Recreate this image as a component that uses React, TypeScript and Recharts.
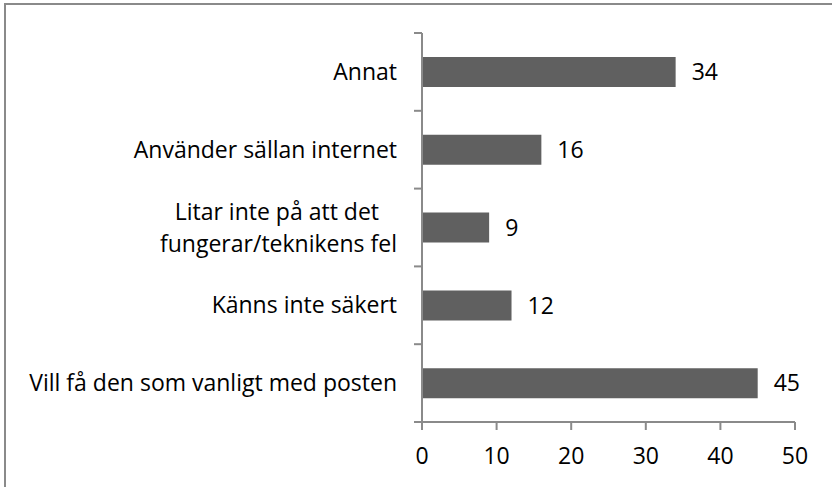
import { Bar, BarChart, LabelList, XAxis, YAxis } from 'recharts';

const categories = [
  'Annat',
  'Använder sällan internet',
  'Litar inte på att det fungerar/teknikens fel',
  'Känns inte säkert',
  'Vill få den som vanligt med posten'
];
const labelLines = [
  ['Annat'],
  ['Använder sällan internet'],
  ['Litar inte på att det', 'fungerar/teknikens fel'],
  ['Känns inte säkert'],
  ['Vill få den som vanligt med posten']
];
const values = [34, 16, 9, 12, 45];
const xTicks = [0, 10, 20, 30, 40, 50];

const data = categories.map((name, i) => ({ name, value: values[i], lines: labelLines[i] }));

const W = 832;
const H = 487;
const TOP = 33;
const AXIS_X = 422;
const AXIS_Y = 422;
const BAND = (AXIS_Y - TOP) / categories.length;
const GRAY = '#8a8a8a';
const FONT = '"Open Sans", sans-serif';

function CategoryTick(props: any) {
  const { y, index } = props;
  const lines: string[] = labelLines[index] || [];
  const right = AXIS_X - 25;
  return (
    <g>
      <line x1={AXIS_X - 8} x2={AXIS_X} y1={y - BAND / 2} y2={y - BAND / 2} stroke={GRAY} strokeWidth={2} />
      {index === categories.length - 1 && (
        <line x1={AXIS_X - 8} x2={AXIS_X} y1={y + BAND / 2} y2={y + BAND / 2} stroke={GRAY} strokeWidth={2} />
      )}
      {lines.length === 1 ? (
        <text x={right} y={y} dy="0.35em" textAnchor="end" fontSize={23} fontFamily={FONT} fill="#000">
          {lines[0]}
        </text>
      ) : (
        <>
          <text x={right - 18} y={y - 16} dy="0.35em" textAnchor="end" fontSize={23} fontFamily={FONT} fill="#000">
            {lines[0]}
          </text>
          <text x={right} y={y + 16} dy="0.35em" textAnchor="end" fontSize={23} fontFamily={FONT} fill="#000">
            {lines[1]}
          </text>
        </>
      )}
    </g>
  );
}

export default function App() {
  return (
    <div style={{ position: 'absolute', left: 0, top: 0, width: W, height: H, background: '#fff' }}>
      <div
        style={{
          position: 'absolute',
          left: 4,
          top: 3,
          width: W - 4,
          height: H - 3,
          borderTop: `2px solid ${GRAY}`,
          borderLeft: `2px solid ${GRAY}`,
          boxSizing: 'border-box'
        }}
      />
      <div style={{ position: 'absolute', left: 0, top: 0 }}>
        <BarChart
          width={W}
          height={H}
          data={data}
          layout="vertical"
          margin={{ top: TOP, right: 37, bottom: 25, left: 0 }}
          barCategoryGap={0}
        >
          <XAxis
            type="number"
            domain={[0, 50]}
            ticks={xTicks}
            interval={0}
            height={40}
            tickSize={8}
            tickMargin={18}
            axisLine={{ stroke: GRAY, strokeWidth: 2 }}
            tickLine={{ stroke: GRAY, strokeWidth: 2 }}
            tick={{ fill: '#000', fontSize: 23, fontFamily: FONT }}
          />
          <YAxis
            type="category"
            dataKey="name"
            width={AXIS_X}
            interval={0}
            axisLine={{ stroke: GRAY, strokeWidth: 2 }}
            tickLine={false}
            tick={<CategoryTick />}
          />
          <Bar dataKey="value" fill="#606060" barSize={30} isAnimationActive={false}>
            <LabelList
              dataKey="value"
              position="right"
              offset={16}
              fill="#000"
              fontSize={23}
              fontFamily={FONT}
            />
          </Bar>
        </BarChart>
      </div>
    </div>
  );
}
